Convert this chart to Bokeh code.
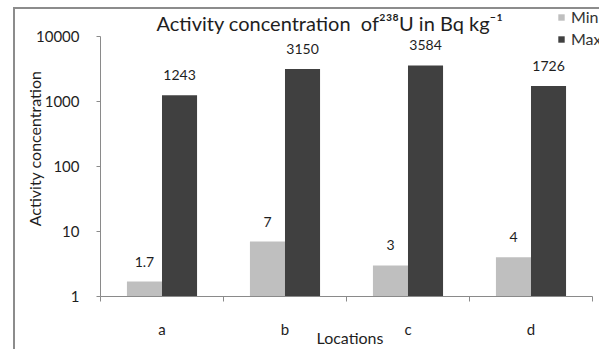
from bokeh.plotting import figure
from bokeh.models import (FixedTicker, NumeralTickFormatter, CustomJSTickFormatter,
                          ColumnDataSource, Legend, LegendItem, Label, InlineStyleSheet)
from bokeh.transform import dodge
from bokeh.embed import file_html
from bokeh.resources import INLINE

locations = ["a", "b", "c", "d"]
min_vals = [1.7, 7, 3, 4]
max_vals = [1243, 3150, 3584, 1726]
y_ticks = [1, 10, 100, 1000, 10000]
series_names = ["Min", "Max"]
title_text = "Activity concentration\u00a0 of\u00b2\u00b3\u2078U in Bq kg\u207b\u00b9"

FONT = "Lato"
MIN_COLOR = "#bfbfbf"
MAX_COLOR = "#404040"
AXIS_COLOR = "#8a8a8a"
TEXT = "#1e1e1e"

xs = [i + 0.5 for i in range(len(locations))]
src = ColumnDataSource(dict(
    x=xs, loc=locations, mn=min_vals, mx=max_vals,
    mn_lab=[f"{v:g}" for v in min_vals], mx_lab=[f"{v:g}" for v in max_vals],
    base=[1] * len(locations),
))

# frame fills the canvas to the top/right (room for title + legend inside it);
# axis lines are limited to the data extent with `bounds`
p = figure(width=599, height=349, output_backend="svg", toolbar_location=None,
           x_range=(0, 4.057), y_range=(1, 35800), y_axis_type="log",
           min_border_left=100, min_border_right=0, min_border_top=0, min_border_bottom=53)

# chart-area frame: top and left edges of the original chart box
p.stylesheets = [InlineStyleSheet(css="""
:host { position: relative; overflow: hidden; }
:host::after { content: ""; position: absolute; left: 13px; top: 7px; width: 700px; height: 400px;
  border-left: 2px solid #8c8c8c; border-top: 2px solid #8c8c8c; pointer-events: none;
  box-sizing: border-box; }
""")]

p.add_layout(Label(text=title_text, x=56, y=274, x_units="screen", y_units="screen",
                   text_font=FONT, text_font_size="20px", text_color=TEXT,
                   text_baseline="alphabetic", text_align="left"))

bw = 0.285
r_min = p.vbar(x=dodge("x", -bw / 2, range=p.x_range), top="mn", bottom="base", width=bw,
               source=src, fill_color=MIN_COLOR, line_color=None)
r_max = p.vbar(x=dodge("x", bw / 2, range=p.x_range), top="mx", bottom="base", width=bw,
               source=src, fill_color=MAX_COLOR, line_color=None)

p.text(x=dodge("x", -bw / 2, range=p.x_range), y="mn", text="mn_lab", source=src,
       y_offset=-20, text_align="center", text_baseline="middle",
       text_font={"value": FONT}, text_font_size="14px", text_color=TEXT)
p.text(x=dodge("x", bw / 2, range=p.x_range), y="mx", text="mx_lab", source=src,
       y_offset=-20, text_align="center", text_baseline="middle",
       text_font={"value": FONT}, text_font_size="14px", text_color=TEXT)

p.xgrid.visible = False
p.ygrid.visible = False
p.outline_line_color = None

xa = p.xaxis[0]
xa.bounds = (0, len(locations))
xa.ticker = FixedTicker(ticks=xs, minor_ticks=list(range(len(locations) + 1)))
xa.formatter = CustomJSTickFormatter(args=dict(labels=locations),
                                     code="return labels[Math.floor(tick)]")
xa.major_tick_line_color = None
xa.major_tick_in = 0
xa.major_tick_out = 0
xa.minor_tick_in = 0
xa.minor_tick_out = 5
xa.minor_tick_line_color = AXIS_COLOR
xa.axis_line_color = AXIS_COLOR
xa.major_label_standoff = 18
xa.major_label_text_font = FONT
xa.major_label_text_font_size = "15px"
xa.major_label_text_color = TEXT
xa.axis_label = "Locations"
xa.axis_label_text_font = FONT
xa.axis_label_text_font_size = "16px"
xa.axis_label_text_font_style = "normal"
xa.axis_label_text_color = TEXT
xa.axis_label_standoff = -13

ya = p.yaxis[0]
ya.bounds = (y_ticks[0], y_ticks[-1])
ya.ticker = FixedTicker(ticks=y_ticks, minor_ticks=[])
ya.formatter = NumeralTickFormatter(format="0")
ya.major_tick_in = 0
ya.major_tick_out = 4
ya.major_tick_line_color = AXIS_COLOR
ya.minor_tick_line_color = None
ya.axis_line_color = AXIS_COLOR
ya.major_label_standoff = 17
ya.major_label_text_font = FONT
ya.major_label_text_font_size = "15px"
ya.major_label_text_color = TEXT
ya.axis_label = "Activity concentration"
ya.axis_label_text_font = FONT
ya.axis_label_text_font_size = "16px"
ya.axis_label_text_font_style = "normal"
ya.axis_label_text_color = TEXT
ya.axis_label_standoff = -11

legend = Legend(items=[LegendItem(label=series_names[0], renderers=[r_min]),
                       LegendItem(label=series_names[1], renderers=[r_max])],
                location=(457, 248), padding=0, margin=0, spacing=3,
                label_height=19, glyph_height=8, glyph_width=8, label_standoff=6,
                label_text_font=FONT, label_text_font_size="16px", label_text_color="#333333",
                background_fill_alpha=0, border_line_color=None)
p.add_layout(legend, "center")

open("out.html", "w").write(file_html(p, INLINE))
